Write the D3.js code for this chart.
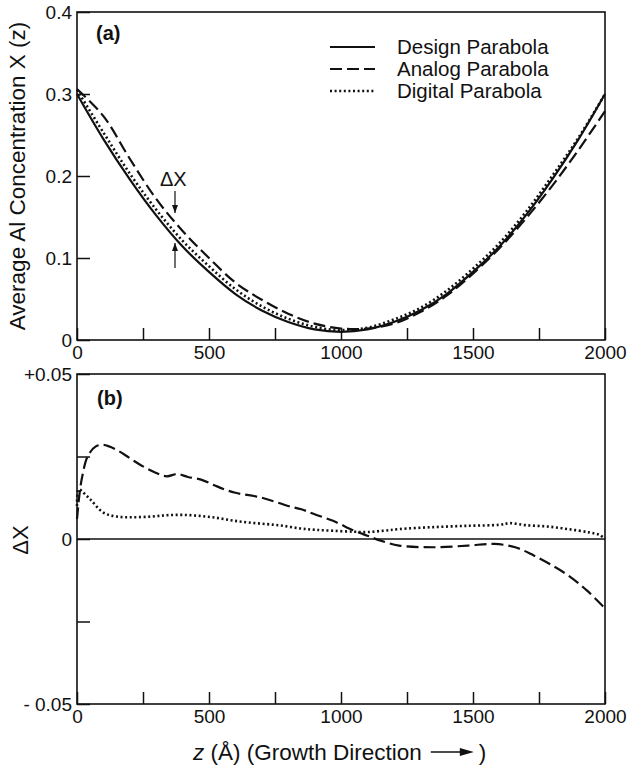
<!DOCTYPE html>
<html>
<head>
<meta charset="utf-8">
<script src="https://cdn.jsdelivr.net/npm/d3@7"></script>
<style>
  body { margin: 0; background: #fff; }
  text { font-family: "Liberation Sans", Arial, sans-serif; fill: #111; }
</style>
</head>
<body>
<div id="chart"></div>
<script>
// Datos
const zTop = [0, 100, 200, 300, 400, 500, 600, 700, 800, 900, 1000,
              1100, 1200, 1300, 1400, 1500, 1600, 1700, 1800, 1900, 2000];
const designX = [0.300, 0.245, 0.196, 0.152, 0.114, 0.083, 0.056, 0.036, 0.022, 0.013, 0.010,
                 0.013, 0.022, 0.036, 0.056, 0.083, 0.114, 0.152, 0.196, 0.245, 0.300];
const analogX = [0.306, 0.273, 0.221, 0.172, 0.133, 0.100, 0.070, 0.049, 0.032, 0.020, 0.014,
                 0.014, 0.020, 0.034, 0.054, 0.081, 0.112, 0.148, 0.188, 0.232, 0.279];
const digitalX = [0.305, 0.253, 0.203, 0.159, 0.121, 0.090, 0.062, 0.041, 0.026, 0.016, 0.012,
                  0.015, 0.025, 0.039, 0.060, 0.087, 0.118, 0.156, 0.200, 0.247, 0.300];

const zAnalog = [0, 10, 20, 40, 70, 100, 150, 200, 250, 300, 340, 380, 420, 470, 520, 560, 600,
                 700, 800, 850, 900, 970, 1050, 1100, 1150, 1220, 1350, 1480, 1580, 1660, 1730,
                 1800, 1860, 1930, 2000];
const dAnalog = [0.006, 0.014, 0.019, 0.025, 0.028, 0.0285, 0.027, 0.0245, 0.022, 0.020, 0.019,
                 0.0197, 0.0188, 0.018, 0.0163, 0.015, 0.014, 0.0125, 0.010, 0.009, 0.0075, 0.0055,
                 0.0025, 0.001, -0.0005, -0.002, -0.0025, -0.002, -0.0015, -0.0025, -0.005,
                 -0.008, -0.011, -0.0155, -0.021];
const zDigital = [0, 5, 10, 50, 100, 150, 210, 280, 340, 400, 465, 530, 590, 650, 720, 780, 845,
                  900, 970, 1050, 1100, 1160, 1220, 1350, 1480, 1600, 1640, 1700, 1780, 1860,
                  1940, 1980, 2000];
const dDigital = [0.010, 0.015, 0.015, 0.012, 0.008, 0.0068, 0.0066, 0.0068, 0.0072, 0.0073,
                  0.007, 0.0064, 0.0056, 0.005, 0.0045, 0.004, 0.0032, 0.0028, 0.0025, 0.0022,
                  0.0021, 0.0025, 0.003, 0.0036, 0.004, 0.0043, 0.0048, 0.0042, 0.0038, 0.003,
                  0.002, 0.0012, 0.0];

const legendLabels = ["Design Parabola", "Analog Parabola", "Digital Parabola"];
const dashes = [null, "12,5", "2,2.6"];

const width = 628, height = 769;
const left = 77, right = 605;

const svg = d3.select("#chart").append("svg")
  .attr("width", width).attr("height", height);

const x = d3.scaleLinear().domain([0, 2000]).range([left, right]);
const yTop = d3.scaleLinear().domain([0, 0.4]).range([340, 12]);
const yBot = d3.scaleLinear().domain([-0.05, 0.05]).range([704, 374]);

// Ejes: marcas hacia dentro
function drawAxes(y, yTicks, yFmt, y0, y1) {
  const gx = svg.append("g").attr("transform", `translate(0,${y0})`)
    .call(d3.axisBottom(x).tickValues(d3.range(0, 2001, 250))
      .tickSizeInner(-12).tickSizeOuter(0).tickPadding(6)
      .tickFormat(d => d % 500 === 0 ? d : ""));
  const gy = svg.append("g").attr("transform", `translate(${left},0)`)
    .call(d3.axisLeft(y).tickValues(yTicks)
      .tickSizeInner(-13).tickSizeOuter(0).tickPadding(5)
      .tickFormat(yFmt));
  [gx, gy].forEach(g => {
    g.attr("font-size", null).attr("font-family", null);
    g.select(".domain").remove();
    g.selectAll("line").attr("stroke", "#111").attr("stroke-width", 1.5);
    g.selectAll("text").attr("fill", "#111").style("font-size", "19px");
  });
  svg.append("rect")
    .attr("x", left).attr("y", y1)
    .attr("width", right - left).attr("height", y0 - y1)
    .attr("fill", "none").attr("stroke", "#111").attr("stroke-width", 1.6);
}

drawAxes(yTop, [0, 0.1, 0.2, 0.3, 0.4], d => d === 0 ? "0" : d3.format(".1f")(d), 340, 12);
drawAxes(yBot, [-0.05, -0.025, 0, 0.025, 0.05],
  d => d === 0.05 ? "+0.05" : d === -0.05 ? "- 0.05" : d === 0 ? "0" : "", 704, 374);

// Línea de cero del panel (b)
svg.append("line")
  .attr("x1", left).attr("x2", right)
  .attr("y1", yBot(0)).attr("y2", yBot(0))
  .attr("stroke", "#111").attr("stroke-width", 1.5);

// Curvas del panel (a)
const topLine = d3.line().x(d => x(d[0])).y(d => yTop(d[1])).curve(d3.curveCatmullRom.alpha(0.5));
[designX, analogX, digitalX].forEach((vals, i) => {
  svg.append("path")
    .datum(zTop.map((z, j) => [z, vals[j]]))
    .attr("d", topLine)
    .attr("fill", "none").attr("stroke", "#111")
    .attr("stroke-width", i === 2 ? 2.6 : 2.2)
    .attr("stroke-dasharray", dashes[i]);
});

// Curvas del panel (b)
const botLine = d3.line().x(d => x(d[0])).y(d => yBot(d[1])).curve(d3.curveCatmullRom.alpha(0.5));
svg.append("path")
  .datum(zAnalog.map((z, j) => [z, dAnalog[j]]))
  .attr("d", botLine)
  .attr("fill", "none").attr("stroke", "#111").attr("stroke-width", 2.2)
  .attr("stroke-dasharray", dashes[1]);
svg.append("path")
  .datum(zDigital.map((z, j) => [z, dDigital[j]]))
  .attr("d", botLine)
  .attr("fill", "none").attr("stroke", "#111").attr("stroke-width", 2.6)
  .attr("stroke-dasharray", dashes[2]);

// Leyenda
legendLabels.forEach((lab, i) => {
  const ly = 47 + i * 22;
  svg.append("line")
    .attr("x1", 330).attr("x2", 375).attr("y1", ly).attr("y2", ly)
    .attr("stroke", "#111").attr("stroke-width", i === 2 ? 2.6 : 2.2)
    .attr("stroke-dasharray", dashes[i]);
  svg.append("text").attr("x", 397).attr("y", ly + 7)
    .attr("font-size", 20.5).text(lab);
});

// Etiquetas de panel
svg.append("text").attr("x", 96).attr("y", 40).attr("font-size", 20)
  .attr("font-weight", "bold").text("(a)");
svg.append("text").attr("x", 97).attr("y", 405).attr("font-size", 20)
  .attr("font-weight", "bold").text("(b)");

// Anotación ΔX con flechas
svg.append("text").attr("x", 160).attr("y", 186).attr("font-size", 20).text("ΔX");
const arrow = (x0, ya, yb) => {
  svg.append("line").attr("x1", x0).attr("x2", x0).attr("y1", ya).attr("y2", yb)
    .attr("stroke", "#111").attr("stroke-width", 1.2);
  const s = yb > ya ? 1 : -1;
  svg.append("path")
    .attr("d", `M${x0 - 3},${yb - s * 8} L${x0},${yb} L${x0 + 3},${yb - s * 8} Z`)
    .attr("fill", "#111");
};
arrow(175, 191, 213);
arrow(175, 268, 243);

// Títulos de ejes
svg.append("text")
  .attr("transform", `translate(25,176) rotate(-90)`)
  .attr("text-anchor", "middle").attr("font-size", 22.5)
  .text("Average Al Concentration X (z)");
svg.append("text")
  .attr("transform", `translate(28,540) rotate(-90)`)
  .attr("text-anchor", "middle").attr("font-size", 22)
  .text("ΔX");

const xl = svg.append("text").attr("x", 193).attr("y", 760).attr("font-size", 22.5);
xl.append("tspan").attr("font-style", "italic").text("z");
xl.append("tspan").text(" (Å) (Growth Direction");
const xlEnd = 193 + xl.node().getComputedTextLength();
svg.append("line").attr("x1", xlEnd + 9).attr("x2", xlEnd + 44)
  .attr("y1", 752).attr("y2", 752).attr("stroke", "#111").attr("stroke-width", 1.4);
svg.append("path")
  .attr("d", `M${xlEnd + 38},748 L${xlEnd + 52},752 L${xlEnd + 38},756 Z`).attr("fill", "#111");
svg.append("text").attr("x", xlEnd + 57).attr("y", 760).attr("font-size", 22.5).text(")");
</script>
</body>
</html>
